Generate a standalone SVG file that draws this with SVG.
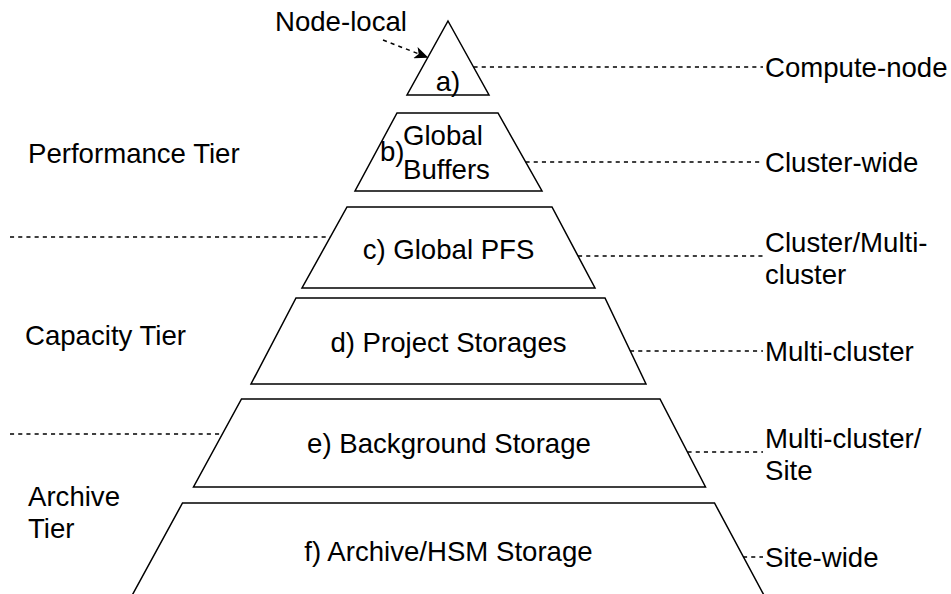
<svg xmlns="http://www.w3.org/2000/svg" width="951" height="594" viewBox="0 0 951 594">
<style>
.shape{fill:#fff;stroke:#000;stroke-width:1.5;stroke-linejoin:miter}
.t{font-family:"Liberation Sans",Arial,sans-serif;font-size:27.6px;fill:#000}
.m{text-anchor:middle}
.dash{fill:none;stroke:#000;stroke-width:1.5;stroke-dasharray:4.1 4.1}
</style>
<defs>
<marker id="arrow" viewBox="0 0 14 12" refX="13.5" refY="6" markerWidth="14" markerHeight="12" markerUnits="userSpaceOnUse" orient="auto">
<path d="M0,0 L14,6 L0,12 L3.5,6 Z" fill="#000"/>
</marker>
</defs>
<rect width="951" height="594" fill="#fff"/>

<g id="node-a">
<polygon class="shape" points="448,21 489,95 407,95"/>
<text class="t m" x="448" y="91">a)</text>
</g>
<g id="node-b">
<polygon class="shape" points="397,113 498,113 542,191 355,191"/>
<text class="t" x="380" y="161">b)</text>
<text class="t" x="403" y="145">Global</text>
<text class="t" x="403" y="179">Buffers</text>
</g>
<g id="node-c">
<polygon class="shape" points="347,207 552,207 595,288 302,288"/>
<text class="t m" x="448.5" y="259">c) Global PFS</text>
</g>
<g id="node-d">
<polygon class="shape" points="296,298 605,298 646,384 251,384"/>
<text class="t m" x="448.5" y="352">d) Project Storages</text>
</g>
<g id="node-e">
<polygon class="shape" points="241.5,399 660,399 705.5,487 193.5,487"/>
<text class="t m" x="449" y="453">e) Background Storage</text>
</g>
<g id="node-f">
<polygon class="shape" points="182.5,503 714.5,503 773,612 123,612"/>
<text class="t m" x="448.5" y="561">f) Archive/HSM Storage</text>
</g>

<g id="label-node-local"><text class="t" x="275" y="31">Node-local</text></g>
<g id="label-performance"><text class="t" x="28" y="163">Performance Tier</text></g>
<g id="label-capacity"><text class="t" x="25" y="345">Capacity Tier</text></g>
<g id="label-archive"><text class="t" x="28" y="506">Archive</text><text class="t" x="28" y="538">Tier</text></g>
<g id="label-compute-node"><text class="t" x="765" y="77">Compute-node</text></g>
<g id="label-cluster-wide"><text class="t" x="765" y="172">Cluster-wide</text></g>
<g id="label-cluster-multi"><text class="t" x="765" y="252">Cluster/Multi-</text><text class="t" x="765" y="284">cluster</text></g>
<g id="label-multi-cluster"><text class="t" x="765" y="361">Multi-cluster</text></g>
<g id="label-multi-site"><text class="t" x="765" y="448">Multi-cluster/</text><text class="t" x="765" y="480">Site</text></g>
<g id="label-site-wide"><text class="t" x="765" y="567">Site-wide</text></g>

<g id="connectors">
<line class="dash" x1="383" y1="40" x2="428" y2="57.5" marker-end="url(#arrow)"/>
<line class="dash" x1="473.5" y1="67" x2="763" y2="67"/>
<line class="dash" x1="525.5" y1="162" x2="763" y2="162"/>
<line class="dash" x1="10" y1="237" x2="330" y2="237"/>
<line class="dash" x1="578" y1="256" x2="763" y2="256"/>
<line class="dash" x1="630" y1="351" x2="763" y2="351"/>
<line class="dash" x1="10" y1="434" x2="222.5" y2="434"/>
<line class="dash" x1="687.5" y1="452" x2="763" y2="452"/>
<line class="dash" x1="743" y1="557" x2="763" y2="557"/>
</g>
</svg>
